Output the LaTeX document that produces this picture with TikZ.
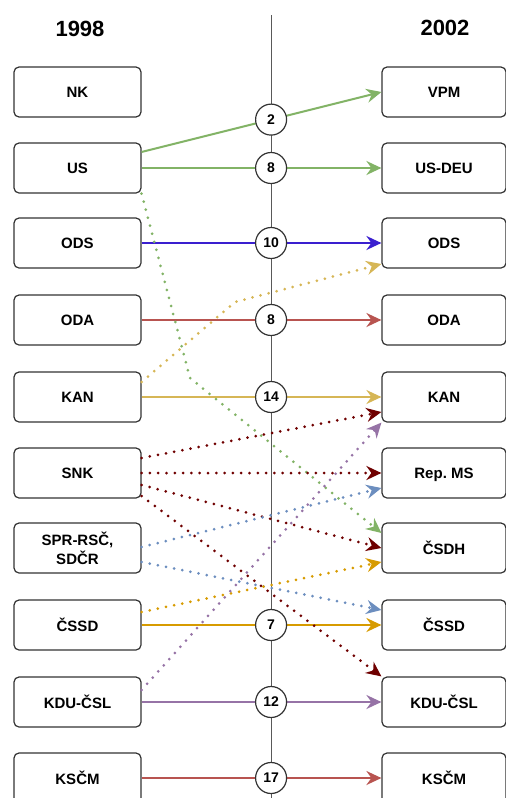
\documentclass[tikz,border=0pt]{standalone}
\usepackage{fontspec}
\setmainfont{Liberation Sans}
\usetikzlibrary{arrows.meta}
\definecolor{vgreen}{HTML}{82B366}
\definecolor{odsblue}{HTML}{3A1FCF}
\definecolor{vred}{HTML}{B85450}
\definecolor{vyellow}{HTML}{D6B656}
\definecolor{vorange}{HTML}{D79B00}
\definecolor{vpurple}{HTML}{9673A6}
\definecolor{vdarkred}{HTML}{6F0000}
\definecolor{vblue}{HTML}{6C8EBF}
\begin{document}
\begin{tikzpicture}[>={Stealth[length=15pt,width=14pt,inset=5pt]},x=1pt,y=-1pt,
	party/.style={draw=black!80,fill=white,rounded corners=5pt,line width=1.2pt,minimum width=127pt,minimum height=50pt,inner sep=1pt,align=center,font=\bfseries\fontsize{15}{19}\selectfont},
	year/.style={font=\bfseries\fontsize{22}{24}\selectfont},
	num/.style={circle,draw=black!80,fill=white,text=black,line width=1.2pt,minimum size=31pt,inner sep=0pt,font=\bfseries\fontsize{14}{16}\selectfont},
	flow/.style={->,line width=2pt},
	swing/.style={->,line width=3pt,line cap=round,dash pattern=on 0pt off 8.3pt}]
	\useasboundingbox (0,0) rectangle (506,798);

	\node[year] (Y98) at (80,29) {1998};
	\node[year] (Y02) at (445,28) {2002};
	\coordinate (top) at (271,15);
	\coordinate (bot) at (271,798);
	\draw[black!65,line width=1pt] (top) -- (bot);

	\node[party] (NK98) at (77.5,92) {NK};
	\node[party] (US98) at (77.5,168) {US};
	\node[party] (ODS98) at (77.5,243) {ODS};
	\node[party] (ODA98) at (77.5,320) {ODA};
	\node[party] (KAN98) at (77.5,397) {KAN};
	\node[party] (SNK98) at (77.5,473) {SNK};
	\node[party] (SPR98) at (77.5,548) {SPR-RSČ,\\SDČR};
	\node[party] (CSSD98) at (77.5,625) {ČSSD};
	\node[party] (KDU98) at (77.5,702) {KDU-ČSL};
	\node[party] (KSCM98) at (77.5,778) {KSČM};

	\node[party,minimum width=124pt] (VPM02) at (444,92) {VPM};
	\node[party,minimum width=124pt] (USDEU02) at (444,168) {US-DEU};
	\node[party,minimum width=124pt] (ODS02) at (444,243) {ODS};
	\node[party,minimum width=124pt] (ODA02) at (444,320) {ODA};
	\node[party,minimum width=124pt] (KAN02) at (444,397) {KAN};
	\node[party,minimum width=124pt,text depth=0pt] (RepMS02) at (444,473) {Rep.\ MS};
	\node[party,minimum width=124pt] (CSDH02) at (444,548) {ČSDH};
	\node[party,minimum width=124pt] (CSSD02) at (444,625) {ČSSD};
	\node[party,minimum width=124pt] (KDU02) at (444,702) {KDU-ČSL};
	\node[party,minimum width=124pt] (KSCM02) at (444,778) {KSČM};

	\draw[flow,vgreen] ([yshift=16pt]US98.east) -- node[num,pos=0.54]{2} (VPM02.west);
	\draw[flow,vgreen] (US98.east) -- node[num,pos=0.54]{8} (USDEU02.west);
	\draw[flow,odsblue] (ODS98.east) -- node[num,pos=0.54]{10} (ODS02.west);
	\draw[flow,vred] (ODA98.east) -- node[num,pos=0.54]{8} (ODA02.west);
	\draw[flow,vyellow] (KAN98.east) -- node[num,pos=0.54]{14} (KAN02.west);
	\draw[flow,vorange] (CSSD98.east) -- node[num,pos=0.54]{7} (CSSD02.west);
	\draw[flow,vpurple] (KDU98.east) -- node[num,pos=0.54]{12} (KDU02.west);
	\draw[flow,vred] (KSCM98.east) -- node[num,pos=0.54]{17} (KSCM02.west);

	\coordinate (b1) at (190,378);
	\coordinate (b2) at (235,302);
	\draw[swing,vgreen] (US98.south east) -- (b1) -- ([yshift=15pt]CSDH02.west);
	\draw[swing,vyellow] ([yshift=15pt]KAN98.east) -- (b2) -- ([yshift=-21pt]ODS02.west);
	\draw[swing,vdarkred] ([yshift=15pt]SNK98.east) -- ([yshift=-15pt]KAN02.west);
	\draw[swing,vdarkred] (SNK98.east) -- (RepMS02.west);
	\draw[swing,vdarkred] ([yshift=-12pt]SNK98.east) -- (CSDH02.west);
	\draw[swing,vdarkred] ([yshift=-23pt]SNK98.east) -- (KDU02.north west);
	\draw[swing,vblue] ([yshift=1pt]SPR98.east) -- ([yshift=-15pt]RepMS02.west);
	\draw[swing,vblue] ([yshift=-14pt]SPR98.east) -- ([yshift=15pt]CSSD02.west);
	\draw[swing,vorange] ([yshift=13pt]CSSD98.east) -- ([yshift=-14pt]CSDH02.west);
	\draw[swing,vpurple] ([yshift=12pt]KDU98.east) -- (KAN02.south west);
\end{tikzpicture}
\end{document}
